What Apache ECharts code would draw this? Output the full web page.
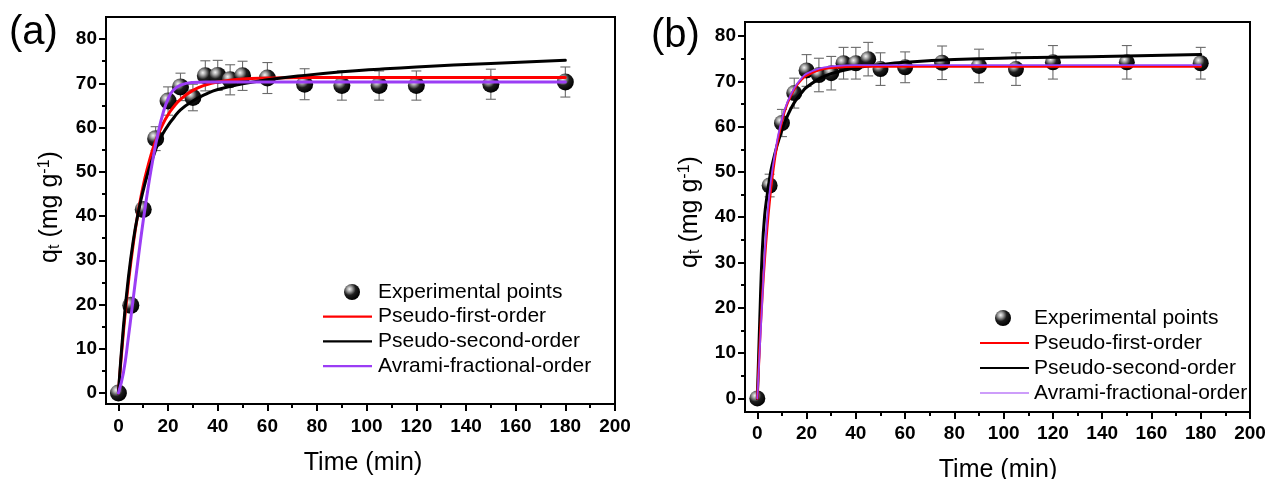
<!DOCTYPE html>
<html><head><meta charset="utf-8">
<script src="https://cdn.jsdelivr.net/npm/echarts@6/dist/echarts.min.js"></script>
<style>html,body{margin:0;padding:0;background:#fff}#c{width:1277px;height:479px}</style>
</head><body><div id="c"></div>
<script>
// ---------- data ----------
const xTicks = [0,20,40,60,80,100,120,140,160,180,200];
const xMinorTicks = [10,30,50,70,90,110,130,150,170,190];
const yTicks = [0,10,20,30,40,50,60,70,80];
const yMinorTicks = [5,15,25,35,45,55,65,75];

const seriesNames = ['Experimental points','Pseudo-first-order','Pseudo-second-order','Avrami-fractional-order'];

// panel (a)
const timeA = [0,5,10,15,20,25,30,35,40,45,50,60,75,90,105,120,150,180];
const qA    = [0,19.8,41.5,57.5,66,69.2,66.8,71.7,71.8,70.8,71.7,71.2,69.8,69.5,69.5,69.5,69.8,70.3];
const errA  = [0,1.2,1.2,2.7,3.2,3.1,3.0,3.4,3.4,3.4,3.3,3.5,3.5,3.3,3.3,3.3,3.4,3.4];
const fitTimeA = [0,2,4,6,8,10,12,14,16,18,20,22,25,30,35,40,50,60,75,90,105,120,150,180];
const pfoA  = [0,13.7,24.8,33.8,41.0,46.9,51.5,55.4,58.4,60.9,62.9,64.5,66.4,68.4,69.6,70.3,71.0,71.2,71.3,71.3,71.3,71.3,71.3,71.3];
const psoA  = [0,14.8,26,34.5,40.8,45.8,50,53.4,56.4,58.7,60.5,62,64,66,67.5,68.6,69.9,70.8,71.8,72.6,73.2,73.7,74.5,75.2];
const afoA  = [0,4.5,12.5,21.5,30.5,39,46.5,53.2,58.8,63.3,66.5,68.4,69.6,70.2,70.3,70.3,70.3,70.3,70.3,70.3,70.3,70.3,70.3,70.3];

// panel (b)
const timeB = [0,5,10,15,20,25,30,35,40,45,50,60,75,90,105,120,150,180];
const qB    = [0,47,60.8,67.4,72.4,71.4,71.8,74.0,74.0,74.9,72.7,73.1,74.1,73.4,72.7,74.2,74.2,74.0];
const errB  = [0,2.5,3.0,3.3,3.5,3.7,3.7,3.5,3.5,3.7,3.6,3.4,3.7,3.7,3.6,3.7,3.7,3.5];
const fitTimeB = [0,1,2,3,4,5,6,8,10,12,15,18,20,25,30,40,50,60,80,105,120,150,180];
const pfoB  = [0,12.1,22.2,30.6,37.6,43.5,48.4,56.0,61.2,64.8,68.3,70.4,71.3,72.5,73.0,73.3,73.3,73.3,73.3,73.3,73.3,73.3,73.3];
const psoB  = [0,17.5,32.5,40.5,44.9,48.6,51.5,55.8,59.2,62.1,65.3,67.5,68.7,70.5,71.7,73.0,73.7,74.2,74.8,75.2,75.3,75.6,75.9];
const afoB  = [0,10.7,21.4,32,39.8,45.6,50,56.8,61.7,65.1,68.5,70.7,71.7,72.8,73.3,73.6,73.6,73.6,73.6,73.6,73.6,73.6,73.6];

// ---------- chart ----------
const F = '"Liberation Sans", Arial, sans-serif';
const chart = echarts.init(document.getElementById('c'), null, {renderer:'canvas'});

const sphere = () => new echarts.graphic.RadialGradient(0.35, 0.32, 0.7, [
  {offset:0, color:'#f4f4f4'}, {offset:0.22, color:'#a8a8a8'},
  {offset:0.55, color:'#1e1e1e'}, {offset:1, color:'#000'}]);

function xMain(g, min, max, margin){
  return {type:'value', gridIndex:g, min, max, position:'bottom',
    axisLine:{show:true, onZero:false, lineStyle:{color:'#000', width:2}},
    axisTick:{show:true, length:7, lineStyle:{color:'#000', width:2}, customValues:xTicks},
    axisLabel:{customValues:xTicks, fontSize:19, fontWeight:'bold', color:'#000', fontFamily:F, margin},
    splitLine:{show:false}};
}
function xMinor(g, min, max){
  return {type:'value', gridIndex:g, min, max, position:'bottom',
    axisLine:{show:false, onZero:false},
    axisTick:{show:true, length:4, lineStyle:{color:'#000', width:2}, customValues:xMinorTicks},
    axisLabel:{show:false}, splitLine:{show:false}};
}
function yMain(g, min, max){
  return {type:'value', gridIndex:g, min, max, position:'left',
    axisLine:{show:true, onZero:false, lineStyle:{color:'#000', width:2}},
    axisTick:{show:true, length:7, lineStyle:{color:'#000', width:2}, customValues:yTicks},
    axisLabel:{customValues:yTicks, fontSize:19, fontWeight:'bold', color:'#000', fontFamily:F, margin:9},
    splitLine:{show:false}};
}
function yMinor(g, min, max){
  return {type:'value', gridIndex:g, min, max, position:'left',
    axisLine:{show:false, onZero:false},
    axisTick:{show:true, length:4, lineStyle:{color:'#000', width:2}, customValues:yMinorTicks},
    axisLabel:{show:false}, splitLine:{show:false}};
}

function errSeries(xi, t, q, e){
  return {type:'custom', xAxisIndex:xi, yAxisIndex:xi, z:2,
    data: t.map((v,i)=>[v, q[i], e[i]]),
    encode:{x:0, y:1},
    renderItem:(params, api)=>{
      const x = api.value(0), y = api.value(1), er = api.value(2);
      if (!er) return {type:'group', children:[]};
      const p1 = api.coord([x, y+er]), p2 = api.coord([x, y-er]);
      const w = 5, st = {stroke:'#6a6a6a', lineWidth:1.1};
      return {type:'group', children:[
        {type:'line', shape:{x1:p1[0], y1:p1[1], x2:p2[0], y2:p2[1]}, style:st},
        {type:'line', shape:{x1:p1[0]-w, y1:p1[1], x2:p1[0]+w, y2:p1[1]}, style:st},
        {type:'line', shape:{x1:p2[0]-w, y1:p2[1], x2:p2[0]+w, y2:p2[1]}, style:st}
      ]};
    }};
}
function scat(xi, t, q, size){
  return {name:seriesNames[0], type:'scatter', xAxisIndex:xi, yAxisIndex:xi, z:3,
    symbolSize:size, data:t.map((v,i)=>[v,q[i]]),
    itemStyle:{color:sphere(), opacity:1}};
}
function curve(xi, name, t, q, color, w){
  return {name, type:'line', xAxisIndex:xi, yAxisIndex:xi, z:4, showSymbol:false,
    smooth:0.5, data:t.map((v,i)=>[v,q[i]]),
    lineStyle:{color, width:w, cap:'round', join:'round'}, itemStyle:{color}};
}

const RED = '#ff0000', BLK = '#000000', PUR = '#9b3df5';

function legend(mx, my, tx, lx1, lx2, dy, widths){
  const els = [];
  els.push({type:'circle', shape:{cx:mx, cy:my, r:8}, style:{fill:sphere()}});
  const cols = [RED, BLK, PUR];
  for (let i=0;i<4;i++){
    els.push({type:'text', x:tx, y:my+dy*i, style:{text:seriesNames[i], fontSize:21, fontFamily:F,
      fill:'#000', textAlign:'left', textVerticalAlign:'middle', align:'left', verticalAlign:'middle'}});
    if (i>0) els.push({type:'line', shape:{x1:lx1, y1:my+dy*i, x2:lx2, y2:my+dy*i},
      style:{stroke:cols[i-1], lineWidth:widths[i-1]}});
  }
  return els;
}
const yTitleRich = {
  n:{fontSize:25, fontFamily:F, color:'#000'},
  sub:{fontSize:16, fontFamily:F, color:'#000', padding:[10,0,0,0]},
  sup:{fontSize:16, fontFamily:F, color:'#000', padding:[0,0,11,0]}
};
const yTitle = '{n|q}{sub|t}{n| (mg g}{sup|-1}{n|)}';
function ytitle(x, y){
  return {type:'text', x, y, rotation:Math.PI/2,
    style:{text:yTitle, rich:yTitleRich, fill:'#000', textAlign:'center', textVerticalAlign:'middle', align:'center', verticalAlign:'middle'}};
}
function xtitle(x, y){
  return {type:'text', x, y, style:{text:'Time (min)', fontSize:25, fontFamily:F, fill:'#000',
    textAlign:'center', textVerticalAlign:'middle', align:'center', verticalAlign:'middle'}};
}
function panel(x, y, s){
  return {type:'text', x, y, style:{text:s, fontSize:40, fontFamily:F, fill:'#000',
    textAlign:'left', textVerticalAlign:'middle', align:'left', verticalAlign:'middle'}};
}

const option = {
  animation:false,
  backgroundColor:'#fff',
  grid:[
    {left:106, right:662, top:17, bottom:75, show:true, borderColor:'#000', borderWidth:2, backgroundColor:'transparent'},
    {left:745, right:27, top:22, bottom:67, show:true, borderColor:'#000', borderWidth:2, backgroundColor:'transparent'}
  ],
  xAxis:[xMain(0,-5,200,13), xMinor(0,-5,200), xMain(1,-5,200,12), xMinor(1,-5,200)],
  yAxis:[yMain(0,-2.5,85), yMinor(0,-2.5,85), yMain(1,-3,83.1), yMinor(1,-3,83.1)],
  series:[
    errSeries(0, timeA, qA, errA),
    scat(0, timeA, qA, 17),
    curve(0, seriesNames[1], fitTimeA, pfoA, RED, 3),
    curve(0, seriesNames[2], fitTimeA, psoA, BLK, 3),
    curve(0, seriesNames[3], fitTimeA, afoA, PUR, 3),
    errSeries(2, timeB, qB, errB),
    scat(2, timeB, qB, 16),
    curve(2, seriesNames[2], fitTimeB, psoB, BLK, 3),
    curve(2, seriesNames[1], fitTimeB, pfoB, RED, 2.5),
    curve(2, seriesNames[3], fitTimeB, afoB, PUR, 1.8)
  ],
  graphic:[
    panel(9, 33, '(a)'),
    panel(651, 36, '(b)'),
    ytitle(50, 207),
    ytitle(690, 212),
    xtitle(363, 463),
    xtitle(998, 470),
    ...legend(352, 292, 378, 323, 372, 24.7, [2.2,2.2,2.2]),
    ...legend(1003, 318, 1034, 980, 1029, 25, [2,2,1.2])
  ]
};
chart.setOption(option);
</script>
</body></html>
